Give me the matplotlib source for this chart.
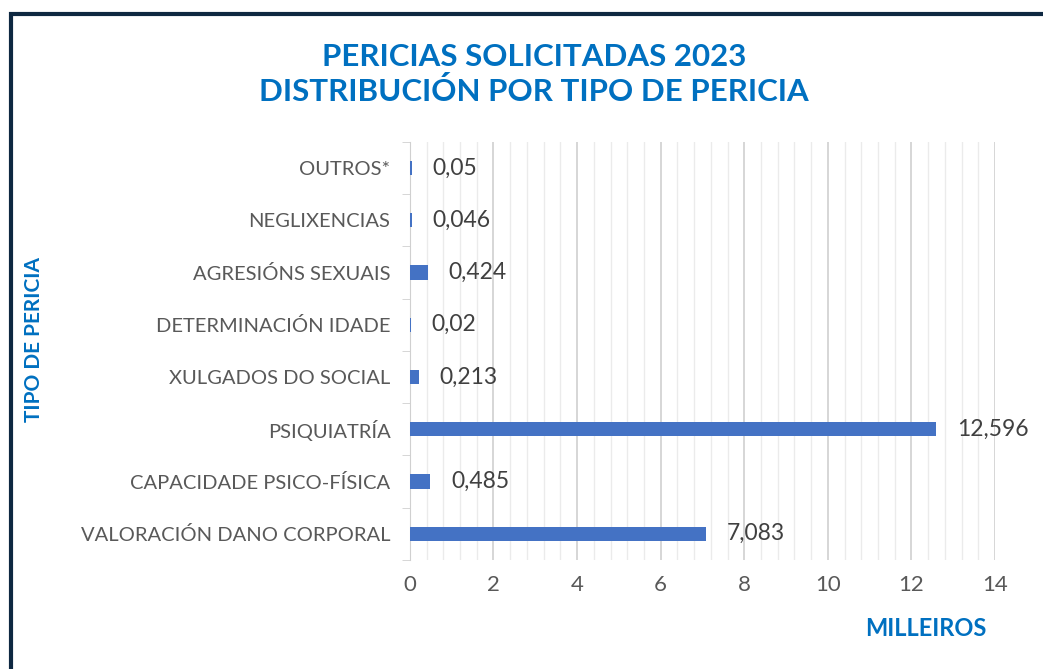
"""
Pericias solicitadas 2023 - distribución por tipo de pericia
Gráfico de barras horizontais (milleiros)
"""

import matplotlib
matplotlib.use('Agg')
import matplotlib.pyplot as plt
from matplotlib.patches import Rectangle
from matplotlib.ticker import MultipleLocator, FixedLocator

plt.rcParams['font.family'] = ['Lato', 'DejaVu Sans']

# Datos (de abaixo cara arriba, como no gráfico)
categorias = ['VALORACIÓN DANO CORPORAL', 'CAPACIDADE PSICO-FÍSICA', 'PSIQUIATRÍA',
              'XULGADOS DO SOCIAL', 'DETERMINACIÓN IDADE', 'AGRESIÓNS SEXUAIS',
              'NEGLIXENCIAS', 'OUTROS*']
valores = [7.083, 0.485, 12.596, 0.213, 0.02, 0.424, 0.046, 0.05]
etiquetas = ['7,083', '0,485', '12,596', '0,213', '0,02', '0,424', '0,046', '0,05']
ticks_x = [0, 2, 4, 6, 8, 10, 12, 14]

AZUL = '#0070C0'
BARRA = '#4472C4'
GRIS_TXT = '#595959'

fig = plt.figure(figsize=(10.43, 6.69), dpi=100)
ax = fig.add_axes([0.393, 0.163, 0.561, 0.625])

# Marco escuro arredor da figura
fig.patches.append(Rectangle((11 / 1043, -0.1), 1.2, 1 - 14 / 669 + 0.1,
                             transform=fig.transFigure, fill=False,
                             edgecolor='#0E2841', linewidth=3))

pos = range(len(categorias))
ax.barh(pos, valores, height=0.27, color=BARRA, zorder=3)

for y, v, txt in zip(pos, valores, etiquetas):
    ax.annotate(txt, (v, y), xytext=(15, 0), textcoords='offset points',
                va='center', ha='left', fontsize=16.5, color='#404040')

ax.set_xlim(0, 14)
ax.set_ylim(-0.5, len(categorias) - 0.5)
ax.set_xticks(ticks_x)
ax.set_xticklabels([str(t) for t in ticks_x], fontsize=16, color=GRIS_TXT)
ax.xaxis.set_minor_locator(MultipleLocator(0.4))
ax.set_yticks(list(pos))
ax.set_yticklabels(categorias, fontsize=14.5, color=GRIS_TXT)
ax.yaxis.set_minor_locator(FixedLocator([i - 0.5 for i in range(len(categorias) + 1)]))

ax.grid(True, which='major', axis='x', color='#D0D0D0', linewidth=1.2, zorder=0)
ax.grid(True, which='minor', axis='x', color='#EBEBEB', linewidth=1.0, zorder=0)
ax.tick_params(axis='x', which='both', length=0, pad=11)
ax.tick_params(axis='y', which='major', length=0, pad=14)
ax.tick_params(axis='y', which='minor', length=6, color='#D0D0D0')

for lado in ['top', 'right', 'bottom']:
    ax.spines[lado].set_visible(False)
ax.spines['left'].set_color('#D0D0D0')

fig.text(0.512, 0.889, 'PERICIAS SOLICITADAS 2023\nDISTRIBUCIÓN POR TIPO DE PERICIA',
         ha='center', va='center', fontsize=22.5, fontweight='bold', color=AZUL,
         linespacing=1.25)
fig.text(0.033, 0.493, 'TIPO DE PERICIA', rotation=90, ha='center', va='center',
         fontsize=15, fontweight='bold', color=AZUL)
fig.text(0.888, 0.061, 'MILLEIROS', ha='center', va='center',
         fontsize=17, fontweight='bold', color=AZUL)

fig.savefig('out.png', dpi=100, facecolor='white')
